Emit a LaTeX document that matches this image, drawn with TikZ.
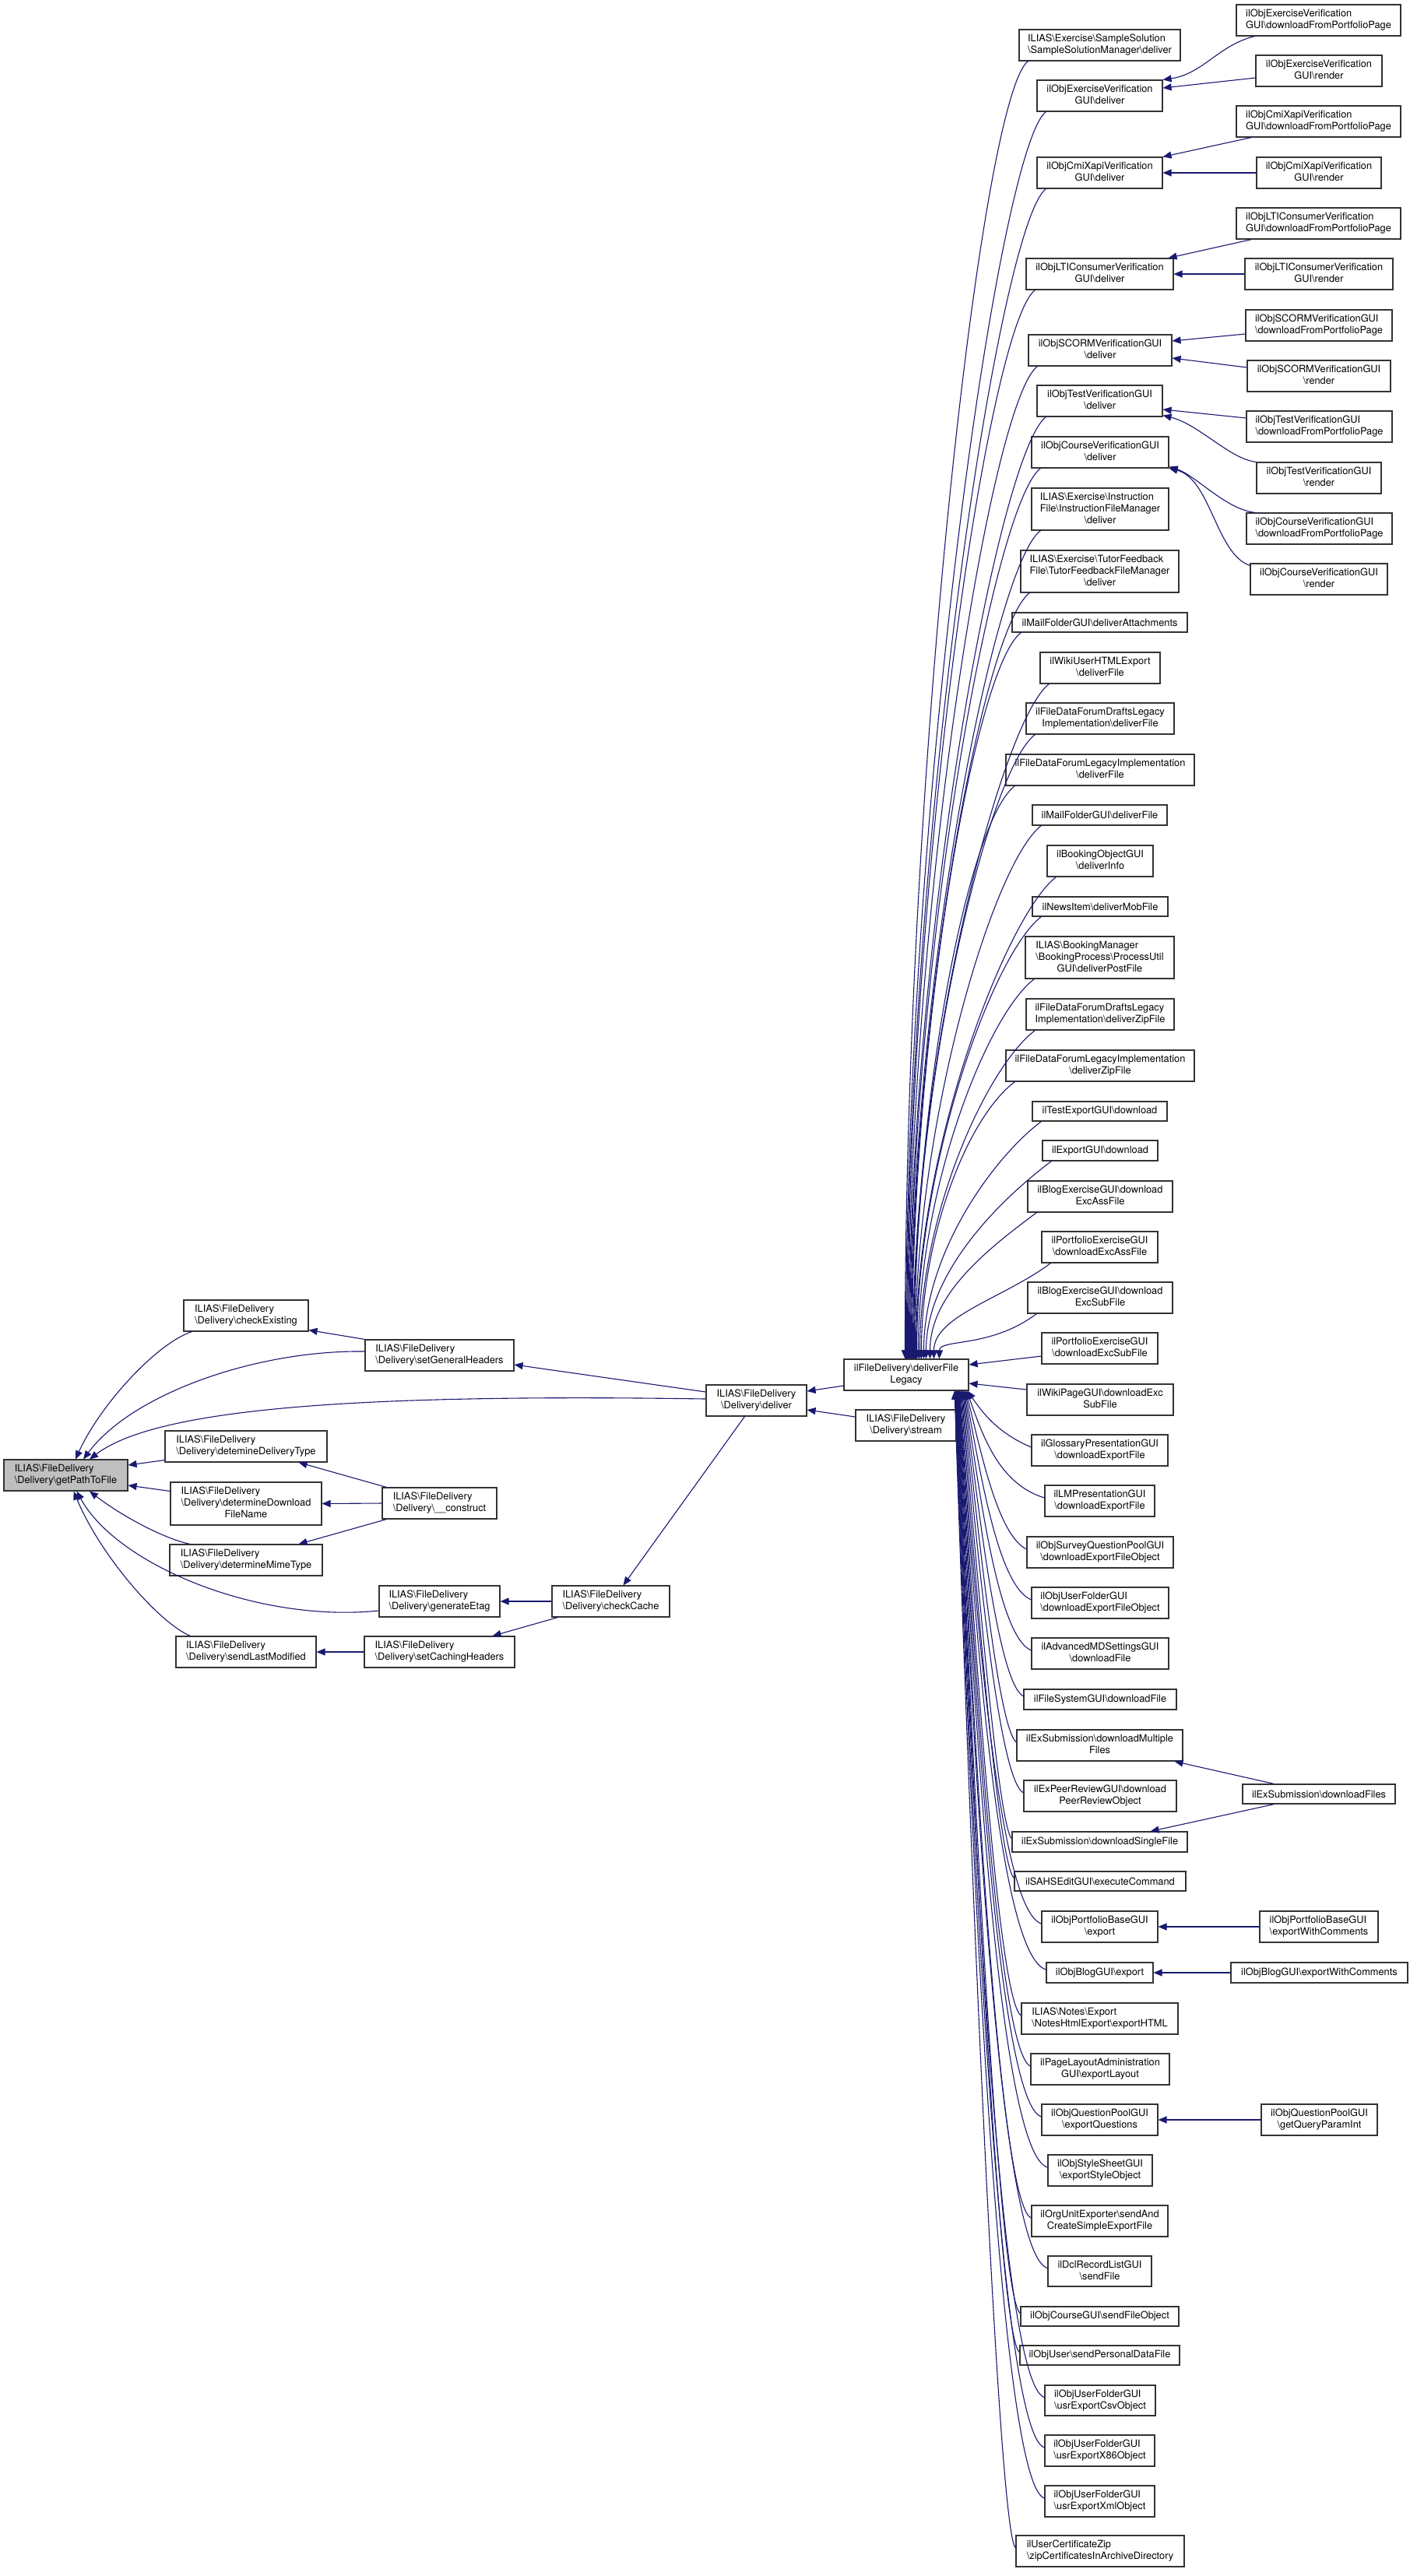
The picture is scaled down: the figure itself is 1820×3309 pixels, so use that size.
\documentclass[tikz,border=0pt]{standalone}
\usepackage{fontspec}
\setmainfont{TeX Gyre Heros}
\usetikzlibrary{arrows.meta,calc}
\definecolor{edgec}{HTML}{191970}
\definecolor{rootfill}{HTML}{BFBFBF}
\definecolor{boxline}{HTML}{333333}
\newcommand{\bsl}{\textbackslash}
\newcommand{\twol}[2]{\begin{tabular}{@{}l@{}}#1\\\multicolumn{1}{@{}c@{}}{#2}\end{tabular}}
\newcommand{\threel}[3]{\begin{tabular}{@{}l@{}}#1\\#2\\\multicolumn{1}{@{}c@{}}{#3}\end{tabular}}
\newcommand{\nd}[7][]{\node[box,#1,minimum width={(#5)-(#3)},minimum height={(#6)-(#4)}] (#2) at ({((#3)+(#5))/2},{((#4)+(#6))/2}) {#7};}
% caller above deliverFileLegacy
\newcommand{\upe}[2]{\draw[cedge] let \p1=([xshift=12pt]#1.south west), \p2=([xshift=#2pt]dfl.north west) in (\p1) .. controls ({\x1-60pt},{\y1-45pt}) and (\x2,{\y2+0.45*(\y1-\y2)}) .. (\p2);}
% caller below deliverFileLegacy
\newcommand{\dne}[2]{\draw[cedge] let \p1=([yshift=4pt]#1.west), \p2=([xshift=#2pt]dfl.south east) in (\p1) .. controls (1282pt,{\y1+18pt}) and ({\x2+20pt},{\y2-0.4*(\y2-\y1)}) .. (\p2);}
\tikzset{
  box/.style={draw=boxline, fill=white, line width=1.1pt, inner sep=0pt, font=\fontsize{12.8}{15}\selectfont},
  rootbox/.style={fill=rootfill},
  cedge/.style={draw=edgec, line width=1.1pt, -{Triangle[length=11pt,width=9pt]}}
}
\begin{document}
\begin{tikzpicture}[x=1pt,y=-1pt]
\fill[white] (0,0) rectangle (1820,3309);
\useasboundingbox (0,0) rectangle (1820,3309);

% ---------- left part ----------
\nd[rootbox]{root}{5}{1875}{164}{1915}{\twol{ILIAS\bsl FileDelivery}{\bsl Delivery\bsl getPathToFile}}
\nd{checkExisting}{236}{1670}{396}{1710}{\twol{ILIAS\bsl FileDelivery}{\bsl Delivery\bsl checkExisting}}
\nd{setGen}{469}{1721}{660}{1761}{\twol{ILIAS\bsl FileDelivery}{\bsl Delivery\bsl setGeneralHeaders}}
\nd{detemine}{212}{1838}{420}{1878}{\twol{ILIAS\bsl FileDelivery}{\bsl Delivery\bsl detemineDeliveryType}}
\nd{dlname}{219}{1904}{413}{1959}{\threel{ILIAS\bsl FileDelivery}{\bsl Delivery\bsl determineDownload}{FileName}}
\nd{construct}{491}{1911}{638}{1951}{\twol{ILIAS\bsl FileDelivery}{\bsl Delivery\bsl \_\_construct}}
\nd{mime}{218}{1984}{414}{2024}{\twol{ILIAS\bsl FileDelivery}{\bsl Delivery\bsl determineMimeType}}
\nd{etag}{487}{2037}{642}{2077}{\twol{ILIAS\bsl FileDelivery}{\bsl Delivery\bsl generateEtag}}
\nd{lastmod}{226}{2102}{406}{2142}{\twol{ILIAS\bsl FileDelivery}{\bsl Delivery\bsl sendLastModified}}
\nd{caching}{468}{2102}{661}{2142}{\twol{ILIAS\bsl FileDelivery}{\bsl Delivery\bsl setCachingHeaders}}
\nd{checkCache}{709}{2037}{860}{2077}{\twol{ILIAS\bsl FileDelivery}{\bsl Delivery\bsl checkCache}}
\nd{deliver}{907}{1779}{1036}{1819}{\twol{ILIAS\bsl FileDelivery}{\bsl Delivery\bsl deliver}}
\nd{dfl}{1084}{1746}{1244}{1786}{\twol{ilFileDelivery\bsl deliverFile}{Legacy}}
\nd{stream}{1099}{1811}{1228}{1851}{\twol{ILIAS\bsl FileDelivery}{\bsl Delivery\bsl stream}}

% ---------- column 3 ----------
\nd{sampleSol}{1309}{38}{1516}{78}{\twol{ILIAS\bsl Exercise\bsl SampleSolution}{\bsl SampleSolutionManager\bsl deliver}}
\nd{exVerDel}{1332}{103}{1493}{143}{\twol{ilObjExerciseVerification}{GUI\bsl deliver}}
\nd{cmiDel}{1332}{202}{1493}{242}{\twol{ilObjCmiXapiVerification}{GUI\bsl deliver}}
\nd{ltiDel}{1318}{332}{1507}{372}{\twol{ilObjLTIConsumerVerification}{GUI\bsl deliver}}
\nd{scormDel}{1321}{430}{1505}{470}{\twol{ilObjSCORMVerificationGUI}{\bsl deliver}}
\nd{testDel}{1332}{495}{1493}{535}{\twol{ilObjTestVerificationGUI}{\bsl deliver}}
\nd{courseDel}{1325}{561}{1501}{601}{\twol{ilObjCourseVerificationGUI}{\bsl deliver}}
\nd{instr}{1325}{627}{1501}{681}{\threel{ILIAS\bsl Exercise\bsl Instruction}{File\bsl InstructionFileManager}{\bsl deliver}}
\nd{tutor}{1311}{707}{1514}{761}{\threel{ILIAS\bsl Exercise\bsl TutorFeedback}{File\bsl TutorFeedbackFileManager}{\bsl deliver}}
\nd{mailAtt}{1300}{787}{1525}{812}{ilMailFolderGUI\bsl deliverAttachments}
\nd{wikiUser}{1336}{838}{1490}{878}{\twol{ilWikiUserHTMLExport}{\bsl deliverFile}}
\nd{draftsDF}{1318}{903}{1508}{943}{\twol{ilFileDataForumDraftsLegacy}{Implementation\bsl deliverFile}}
\nd{legacyDF}{1292}{969}{1534}{1009}{\twol{ilFileDataForumLegacyImplementation}{\bsl deliverFile}}
\nd{mailDF}{1326}{1034}{1499}{1060}{ilMailFolderGUI\bsl deliverFile}
\nd{bookingObj}{1345}{1086}{1481}{1126}{\twol{ilBookingObjectGUI}{\bsl deliverInfo}}
\nd{news}{1326}{1152}{1500}{1177}{ilNewsItem\bsl deliverMobFile}
\nd{bookingMgr}{1317}{1203}{1508}{1257}{\threel{ILIAS\bsl BookingManager}{\bsl BookingProcess\bsl ProcessUtil}{GUI\bsl deliverPostFile}}
\nd{draftsZip}{1318}{1283}{1508}{1323}{\twol{ilFileDataForumDraftsLegacy}{Implementation\bsl deliverZipFile}}
\nd{legacyZip}{1292}{1349}{1534}{1389}{\twol{ilFileDataForumLegacyImplementation}{\bsl deliverZipFile}}
\nd{testExport}{1326}{1415}{1499}{1440}{ilTestExportGUI\bsl download}
\nd{exportGUI}{1339}{1465}{1487}{1491}{ilExportGUI\bsl download}
\nd{blogAss}{1320}{1517}{1506}{1557}{\twol{ilBlogExerciseGUI\bsl download}{ExcAssFile}}
\nd{portAss}{1338}{1582}{1487}{1622}{\twol{ilPortfolioExerciseGUI}{\bsl downloadExcAssFile}}
\nd{blogSub}{1320}{1647}{1506}{1687}{\twol{ilBlogExerciseGUI\bsl download}{ExcSubFile}}
\nd{portSub}{1338}{1712}{1487}{1752}{\twol{ilPortfolioExerciseGUI}{\bsl downloadExcSubFile}}
\nd{wikiPage}{1319}{1778}{1507}{1818}{\twol{ilWikiPageGUI\bsl downloadExc}{SubFile}}
\nd{glossary}{1325}{1843}{1500}{1883}{\twol{ilGlossaryPresentationGUI}{\bsl downloadExportFile}}
\nd{lmPres}{1342}{1908}{1483}{1948}{\twol{ilLMPresentationGUI}{\bsl downloadExportFile}}
\nd{survey}{1319}{1974}{1507}{2014}{\twol{ilObjSurveyQuestionPoolGUI}{\bsl downloadExportFileObject}}
\nd{userDEFO}{1325}{2039}{1501}{2079}{\twol{ilObjUserFolderGUI}{\bsl downloadExportFileObject}}
\nd{advMD}{1325}{2104}{1501}{2144}{\twol{ilAdvancedMDSettingsGUI}{\bsl downloadFile}}
\nd{fileSys}{1315}{2170}{1511}{2196}{ilFileSystemGUI\bsl downloadFile}
\nd{dMulti}{1306}{2222}{1519}{2262}{\twol{ilExSubmission\bsl downloadMultiple}{Files}}
\nd{peer}{1315}{2287}{1511}{2327}{\twol{ilExPeerReviewGUI\bsl download}{PeerReviewObject}}
\nd{dSingle}{1300}{2353}{1525}{2379}{ilExSubmission\bsl downloadSingleFile}
\nd{sahs}{1303}{2404}{1523}{2429}{ilSAHSEditGUI\bsl executeCommand}
\nd{portBaseExp}{1338}{2455}{1487}{2495}{\twol{ilObjPortfolioBaseGUI}{\bsl export}}
\nd{blogExp}{1344}{2521}{1481}{2547}{ilObjBlogGUI\bsl export}
\nd{notes}{1312}{2573}{1513}{2613}{\twol{ILIAS\bsl Notes\bsl Export}{\bsl NotesHtmlExport\bsl exportHTML}}
\nd{pageLayout}{1324}{2638}{1502}{2678}{\twol{ilPageLayoutAdministration}{GUI\bsl exportLayout}}
\nd{qpExp}{1338}{2703}{1487}{2743}{\twol{ilObjQuestionPoolGUI}{\bsl exportQuestions}}
\nd{styleSheet}{1346}{2768}{1480}{2808}{\twol{ilObjStyleSheetGUI}{\bsl exportStyleObject}}
\nd{orgUnit}{1325}{2833}{1500}{2873}{\twol{ilOrgUnitExporter\bsl sendAnd}{CreateSimpleExportFile}}
\nd{dcl}{1346}{2898}{1479}{2937}{\twol{ilDclRecordListGUI}{\bsl sendFile}}
\nd{courseSend}{1311}{2963}{1514}{2988}{ilObjCourseGUI\bsl sendFileObject}
\nd{objUser}{1310}{3013}{1515}{3038}{ilObjUser\bsl sendPersonalDataFile}
\nd{csv}{1342}{3064}{1484}{3103}{\twol{ilObjUserFolderGUI}{\bsl usrExportCsvObject}}
\nd{xeightsix}{1342}{3128}{1483}{3168}{\twol{ilObjUserFolderGUI}{\bsl usrExportX86Object}}
\nd{xml}{1342}{3193}{1483}{3233}{\twol{ilObjUserFolderGUI}{\bsl usrExportXmlObject}}
\nd{zip}{1305}{3257}{1521}{3297}{\twol{ilUserCertificateZip}{\bsl zipCertificatesInArchiveDirectory}}

% ---------- column 4 ----------
\nd{exVerDFPP}{1588}{6}{1799}{46}{\twol{ilObjExerciseVerification}{GUI\bsl downloadFromPortfolioPage}}
\nd{exVerRender}{1613}{71}{1775}{111}{\twol{ilObjExerciseVerification}{GUI\bsl render}}
\nd{cmiDFPP}{1588}{136}{1799}{176}{\twol{ilObjCmiXapiVerification}{GUI\bsl downloadFromPortfolioPage}}
\nd{cmiRender}{1614}{202}{1774}{242}{\twol{ilObjCmiXapiVerification}{GUI\bsl render}}
\nd{ltiDFPP}{1588}{267}{1799}{307}{\twol{ilObjLTIConsumerVerification}{GUI\bsl downloadFromPortfolioPage}}
\nd{ltiRender}{1599}{332}{1789}{372}{\twol{ilObjLTIConsumerVerification}{GUI\bsl render}}
\nd{scormDFPP}{1600}{398}{1788}{438}{\twol{ilObjSCORMVerificationGUI}{\bsl downloadFromPortfolioPage}}
\nd{scormRender}{1602}{463}{1786}{503}{\twol{ilObjSCORMVerificationGUI}{\bsl render}}
\nd{testDFPP}{1601}{528}{1788}{568}{\twol{ilObjTestVerificationGUI}{\bsl downloadFromPortfolioPage}}
\nd{testRender}{1614}{594}{1774}{634}{\twol{ilObjTestVerificationGUI}{\bsl render}}
\nd{courseDFPP}{1601}{659}{1788}{699}{\twol{ilObjCourseVerificationGUI}{\bsl downloadFromPortfolioPage}}
\nd{courseRender}{1606}{724}{1782}{764}{\twol{ilObjCourseVerificationGUI}{\bsl render}}
\nd{dFiles}{1596}{2292}{1792}{2317}{ilExSubmission\bsl downloadFiles}
\nd{portBaseEWC}{1618}{2455}{1770}{2495}{\twol{ilObjPortfolioBaseGUI}{\bsl exportWithComments}}
\nd{blogEWC}{1581}{2521}{1808}{2547}{ilObjBlogGUI\bsl exportWithComments}
\nd{qpGQPI}{1620}{2703}{1769}{2743}{\twol{ilObjQuestionPoolGUI}{\bsl getQueryParamInt}}

% ---------- edges: left part ----------
\draw[cedge] ([xshift=11pt]checkExisting.south west) .. controls (200,1726) and (128,1806) .. ([xshift=12.5pt]root.north);
\draw[cedge] ([yshift=5pt]setGen.west) .. controls (330,1734) and (170,1790) .. ([xshift=22.5pt]root.north);
\draw[cedge] (setGen.north west) -- ([yshift=2pt]checkExisting.south east);
\draw[cedge] ([yshift=2pt]deliver.west) .. controls (450,1790) and (200,1810) .. ([xshift=30.5pt]root.north);
\draw[cedge] ([yshift=11pt]deliver.west) -- ([yshift=-12pt]setGen.east);
\draw[cedge] ([yshift=3pt]detemine.south west) -- ([yshift=13pt]root.east);
\draw[cedge] ([yshift=-12pt]dlname.north west) -- ([yshift=-13pt]root.east);
\draw[cedge] ([xshift=27pt]mime.north west) .. controls (215,1978) and (160,1950) .. ([xshift=30.5pt]root.south);
\draw[cedge] ([yshift=-12pt]etag.west) .. controls (330,2085) and (150,2010) .. ([xshift=14pt]root.south);
\draw[cedge] ([xshift=19pt]lastmod.north west) .. controls (205,2085) and (130,2000) .. ([xshift=10pt]root.south);
\draw[cedge] ([xshift=6pt]construct.north west) -- ([xshift=-37pt]detemine.south east);
\draw[cedge] (construct.west) -- (dlname.east);
\draw[cedge] ([xshift=6pt]construct.south west) -- ([xshift=-31pt]mime.north east);
\draw[cedge] (checkCache.west) -- (etag.east);
\draw[cedge] ([xshift=8pt]checkCache.south west) -- ([xshift=-29pt]caching.north east);
\draw[cedge] (caching.west) -- (lastmod.east);
\draw[cedge] ([xshift=50pt]deliver.south west) -- ([xshift=16pt]checkCache.north);
\draw[cedge] ([yshift=-14pt]dfl.west) -- ([yshift=12pt]deliver.east);
\draw[cedge] ([yshift=11pt]stream.west) -- ([yshift=-12pt]deliver.east);

% ---------- edges: callers of deliverFileLegacy ----------
\upe{sampleSol}{79}
\upe{exVerDel}{80}
\upe{cmiDel}{81}
\upe{ltiDel}{82}
\upe{scormDel}{83}
\upe{testDel}{84}
\upe{courseDel}{85}
\upe{instr}{86}
\upe{tutor}{87}
\upe{mailAtt}{88}
\upe{wikiUser}{89}
\upe{draftsDF}{90}
\upe{legacyDF}{91}
\upe{mailDF}{92}
\upe{bookingObj}{93}
\upe{news}{94}
\upe{bookingMgr}{96}
\upe{draftsZip}{98}
\upe{legacyZip}{100}
\upe{testExport}{103}
\upe{exportGUI}{106}
\upe{blogAss}{111}
\upe{portAss}{116}
\upe{blogSub}{123}
\draw[cedge] ([yshift=-10pt]portSub.west) -- ([yshift=13pt]dfl.east);
\draw[cedge] ([yshift=13pt]wikiPage.west) -- ([yshift=-11pt]dfl.east);
\dne{glossary}{-2}
\dne{lmPres}{-3}
\dne{survey}{-4}
\dne{userDEFO}{-5}
\dne{advMD}{-6}
\dne{fileSys}{-7}
\dne{dMulti}{-8}
\dne{peer}{-9}
\dne{dSingle}{-10}
\dne{sahs}{-11}
\dne{portBaseExp}{-12}
\dne{blogExp}{-12.5}
\dne{notes}{-13}
\dne{pageLayout}{-13.5}
\dne{qpExp}{-14}
\dne{styleSheet}{-14.5}
\dne{orgUnit}{-15}
\dne{dcl}{-15.5}
\dne{courseSend}{-16}
\dne{objUser}{-16.5}
\dne{csv}{-17}
\dne{xeightsix}{-17.5}
\dne{xml}{-18}
\dne{zip}{-18.5}

% ---------- edges: column 4 to column 3 ----------
\draw[cedge] ([xshift=24pt]exVerDFPP.south west) .. controls (1565,58) and (1545,95) .. (exVerDel.north east);
\draw[cedge] ([yshift=-9pt]exVerRender.west) -- ([yshift=10pt]exVerDel.east);
\draw[cedge] ([xshift=20pt]cmiDFPP.south west) -- (cmiDel.north east);
\draw[cedge] (cmiRender.west) -- (cmiDel.east);
\draw[cedge] ([xshift=20pt]ltiDFPP.south west) -- ([xshift=-7pt]ltiDel.north east);
\draw[cedge] (ltiRender.west) -- (ltiDel.east);
\draw[cedge] ([yshift=-11pt]scormDFPP.west) -- ([yshift=12pt]scormDel.east);
\draw[cedge] ([yshift=11pt]scormRender.west) -- ([yshift=-10pt]scormDel.east);
\draw[cedge] ([yshift=11pt]testDFPP.west) -- ([yshift=-11pt]testDel.east);
\draw[cedge] (testRender.north west) .. controls (1580,590) and (1540,545) .. ([yshift=2pt]testDel.south east);
\draw[cedge] ([xshift=12pt]courseDFPP.north west) .. controls (1575,655) and (1535,610) .. ([yshift=2pt]courseDel.south east);
\draw[cedge] ([yshift=-3pt]courseRender.north west) .. controls (1562,712) and (1555,615) .. (courseDel.south east);
\draw[cedge] ([xshift=41pt]dFiles.north west) -- ([xshift=-11pt]dMulti.south east);
\draw[cedge] ([xshift=41pt]dFiles.south west) -- ([xshift=-48pt]dSingle.north east);
\draw[cedge] (portBaseEWC.west) -- (portBaseExp.east);
\draw[cedge] (blogEWC.west) -- (blogExp.east);
\draw[cedge] (qpGQPI.west) -- (qpExp.east);
\end{tikzpicture}
\end{document}
